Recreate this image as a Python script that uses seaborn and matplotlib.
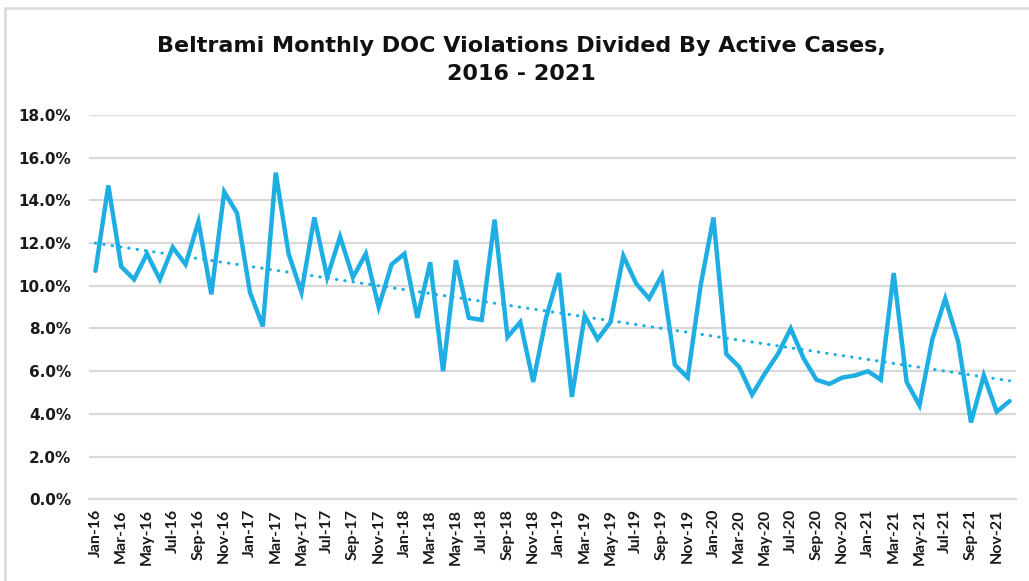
import numpy as np
import pandas as pd
import matplotlib
matplotlib.use("Agg")
import matplotlib.pyplot as plt
from matplotlib.lines import Line2D
import seaborn as sns

# Monthly DOC violations as a share of active cases (%), Jan 2016 - Dec 2021
months = [f"{m}-{y:02d}" for y in range(16, 22)
          for m in ["Jan", "Feb", "Mar", "Apr", "May", "Jun",
                    "Jul", "Aug", "Sep", "Oct", "Nov", "Dec"]]
rate_2016 = [10.7, 14.7, 10.9, 10.3, 11.5, 10.3, 11.8, 11.0, 13.0, 9.6, 14.4, 13.4]
rate_2017 = [9.7, 8.1, 15.3, 11.5, 9.7, 13.2, 10.4, 12.3, 10.4, 11.5, 9.0, 11.0]
rate_2018 = [11.5, 8.5, 11.1, 6.0, 11.2, 8.5, 8.4, 13.1, 7.6, 8.3, 5.5, 8.5]
rate_2019 = [10.6, 4.8, 8.6, 7.5, 8.3, 11.4, 10.1, 9.4, 10.5, 6.3, 5.7, 10.0]
rate_2020 = [13.2, 6.8, 6.2, 4.9, 5.9, 6.8, 8.0, 6.6, 5.6, 5.4, 5.7, 5.8]
rate_2021 = [6.0, 5.6, 10.6, 5.5, 4.4, 7.5, 9.4, 7.4, 3.6, 5.8, 4.1, 4.6]
rates = rate_2016 + rate_2017 + rate_2018 + rate_2019 + rate_2020 + rate_2021

# Linear trendline end values (%)
trend_start = 12.0
trend_end = 5.55

y_ticks = [0, 2, 4, 6, 8, 10, 12, 14, 16, 18]
title = "Beltrami Monthly DOC Violations Divided By Active Cases,\n2016 - 2021"

n = len(months)
df = pd.DataFrame({"idx": np.arange(n), "month": months, "rate": rates})
df["trend"] = np.linspace(trend_start, trend_end, n)

sns.set_style("white")
plt.rcParams["font.family"] = ["DejaVu Sans"]

blue = "#1FAEE3"
grid_gray = "#D9D9D9"

fig = plt.figure(figsize=(10.29, 5.81), dpi=100)
ax = fig.add_axes([0.0865, 0.1406, 0.9009, 0.6615])

sns.lineplot(data=df, x="idx", y="trend", ax=ax, color=blue, lw=2.2,
             linestyle=(0, (0.15, 2.6)), dash_capstyle="round")
sns.lineplot(data=df, x="idx", y="rate", ax=ax, color=blue, lw=3.2,
             solid_joinstyle="miter")

ax.set_xlim(-0.5, n - 0.5)
ax.set_ylim(0, 18)

ax.set_yticks(y_ticks)
ax.set_yticklabels([f"{v:.1f}%" for v in y_ticks], fontsize=11,
                   fontweight="bold", color="#1A1A1A")
ax.yaxis.grid(True, color=grid_gray, lw=1.6)
ax.set_axisbelow(True)

ax.set_xticks(df["idx"][::2])
ax.set_xticklabels(df["month"][::2], rotation=90, fontsize=11.5,
                   fontweight="bold", color="#1A1A1A",
                   family=["Lato", "DejaVu Sans"])
ax.set_xticks(np.arange(-0.5, n, 2), minor=True)
ax.tick_params(axis="x", which="major", length=0, pad=7)
ax.tick_params(axis="x", which="minor", length=5, width=1.2, color=grid_gray)
ax.tick_params(axis="y", length=0, pad=13)

for side in ["left", "right", "top"]:
    ax.spines[side].set_visible(False)
ax.spines["bottom"].set_color(grid_gray)
ax.spines["bottom"].set_linewidth(1.6)

ax.set_xlabel("")
ax.set_ylabel("")

fig.text(521 / 1029, 0.8967, title, ha="center", va="center", fontsize=16,
         fontweight="bold", color="#111111", linespacing=1.45)

# Chart frame
fig.add_artist(Line2D([5 / 1029, 5 / 1029], [0, 1 - 8 / 581],
                      transform=fig.transFigure, color=grid_gray, lw=1.8))
fig.add_artist(Line2D([5 / 1029, 1], [1 - 8 / 581, 1 - 8 / 581],
                      transform=fig.transFigure, color=grid_gray, lw=1.8))

fig.savefig("out.png", dpi=100, facecolor="white")
